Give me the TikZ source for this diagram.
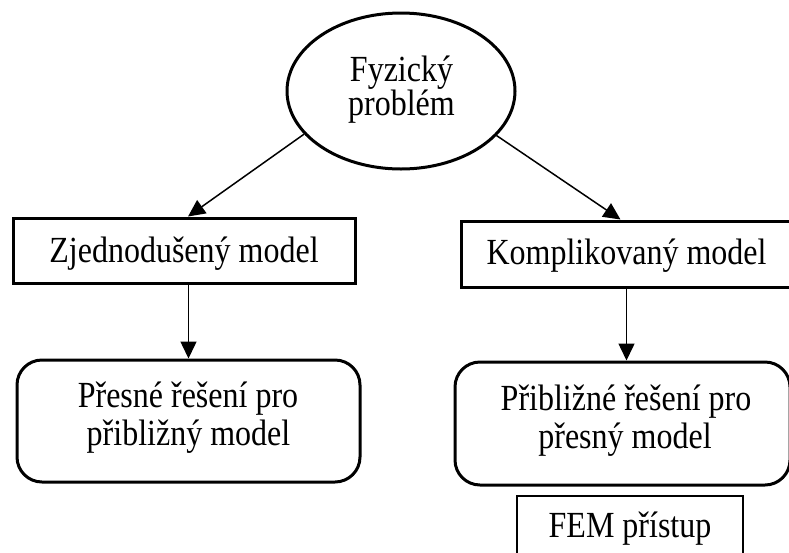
\documentclass[tikz,border=0pt]{standalone}
\usepackage{fontspec}
\setmainfont{Liberation Serif}
\usetikzlibrary{shapes.geometric,arrows.meta}
\newcommand{\tallt}[1]{\scalebox{1}[1.15]{#1}}
\begin{document}
\begin{tikzpicture}[x=1pt,y=-1pt,
  txt/.style={font=\fontsize{32}{36}\selectfont, inner sep=0pt, anchor=base},
  thickbox/.style={draw, line width=3pt, rectangle, inner sep=0pt},
  roundbox/.style={draw, line width=3pt, rectangle, rounded corners=25pt, inner sep=0pt},
  thinbox/.style={draw, line width=1.3pt, rectangle, inner sep=0pt},
  ellbox/.style={draw, line width=3pt, ellipse, inner sep=0pt},
  arr/.style={line width=1.5pt, -{Triangle[length=17pt,width=16pt]}}]
\useasboundingbox (0,0) rectangle (789,552);
% shapes
\node[ellbox, minimum width=228pt, minimum height=156pt] (ell) at (401,91) {};
\node[thickbox, minimum width=342pt, minimum height=65pt] (zj) at (184,250.5) {};
\node[thickbox, minimum width=331pt, minimum height=66pt] (ko) at (626.5,254) {};
\node[roundbox, minimum width=343pt, minimum height=122pt] (pr) at (188.5,421) {};
\node[roundbox, minimum width=335pt, minimum height=123pt] (pb) at (622.5,423.5) {};
\node[thinbox, minimum width=226pt, minimum height=70pt] (fem) at (630,531) {};
% texts
\node[txt] (ell1) at (401.5,81) {\tallt{Fyzický}};
\node[txt] (ell2) at (401.5,115) {\tallt{problém}};
\node[txt] (zjt) at (184,262) {\tallt{Zjednodušený model}};
\node[txt] (kot) at (626.5,264) {\tallt{Komplikovaný model}};
\node[txt] (pr1) at (188,407) {\tallt{Přesné řešení pro}};
\node[txt] (pr2) at (188.5,445) {\tallt{přibližný model}};
\node[txt] (pb1) at (626,410) {\tallt{Přibližné řešení pro}};
\node[txt] (pb2) at (625,448) {\tallt{přesný model}};
\node[txt] (femt) at (630,537) {\tallt{FEM přístup}};
% connectors
\draw[arr] (ell.204) -- ([xshift=4pt]zj.north);
\draw[arr] (ell.335.6) -- ([xshift=-6pt]ko.north);
\draw[arr] (zj.south -| pr.north) -- (pr.north);
\draw[arr] (ko.south) -- (ko.south |- pb.north);
\end{tikzpicture}
\end{document}
